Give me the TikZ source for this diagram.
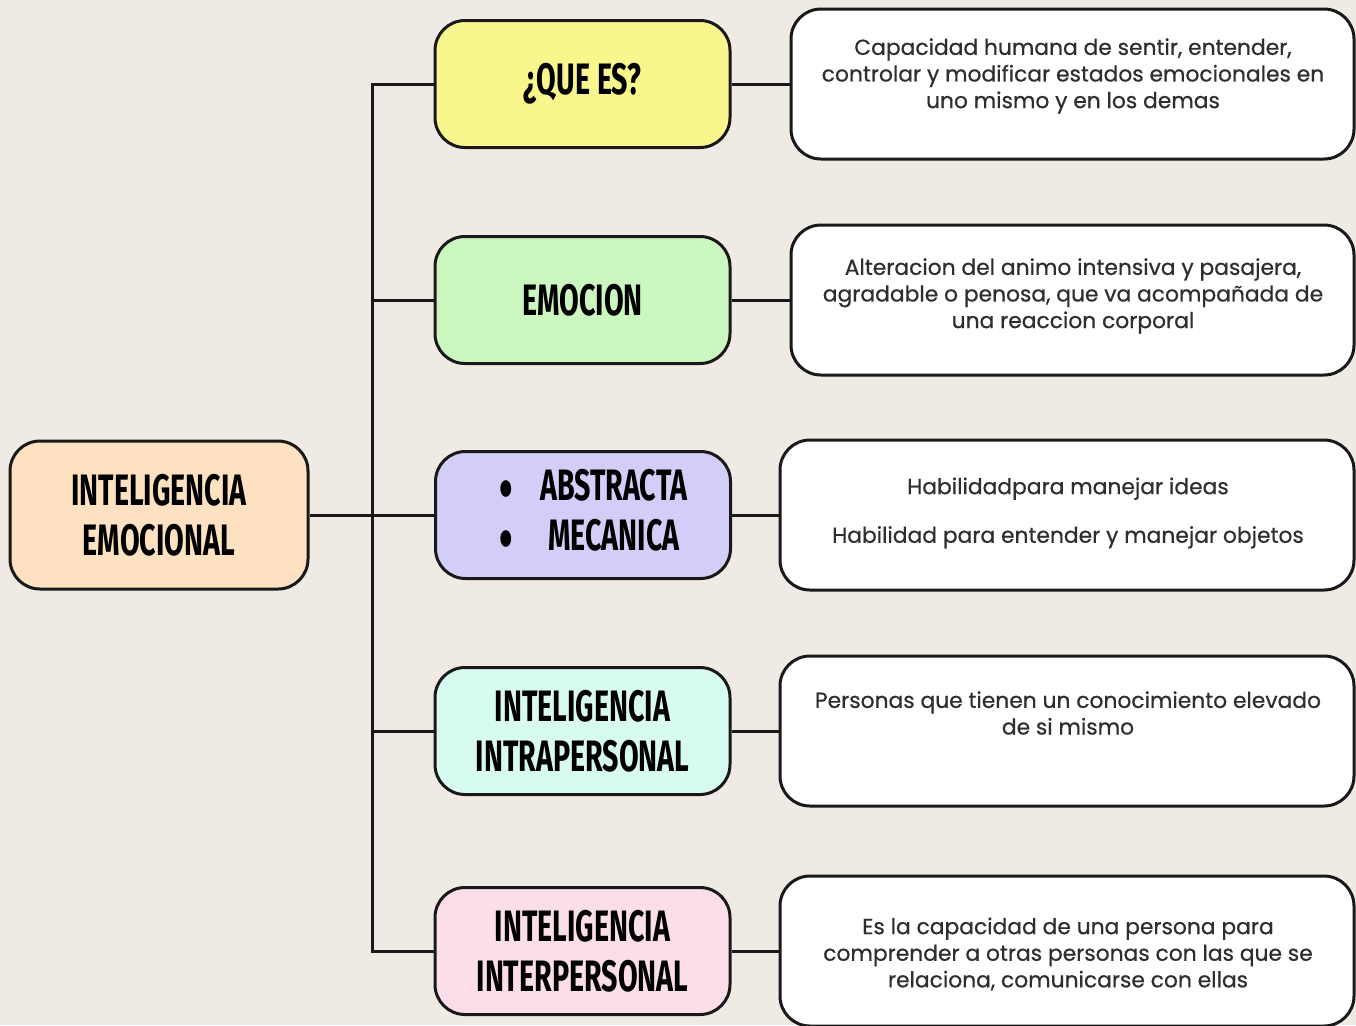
\documentclass[tikz,border=0pt]{standalone}
\usepackage{fontspec}
\setmainfont{Poppins}[FakeBold=0.6]
\newfontfamily\headfont[FakeStretch=0.65]{Fira Sans}
\definecolor{bg}{HTML}{EFEAE3}
\definecolor{cyellow}{HTML}{FAF68E}
\definecolor{cgreen}{HTML}{CCF6BF}
\definecolor{cviolet}{HTML}{D3CEF8}
\definecolor{cmint}{HTML}{D7FBF1}
\definecolor{cpink}{HTML}{FCDEE8}
\definecolor{cpeach}{HTML}{FDE1C0}
\definecolor{txt}{HTML}{2E2E2E}
\newcommand{\bigbul}{\raisebox{-4.5pt}[0pt][0pt]{\fontsize{30}{0}\selectfont\textbullet}}
\tikzset{
  box/.style={draw=black!90, line width=1.5pt, rounded corners=15pt, rectangle, align=center},
  headbox/.style={box, minimum width=147.5pt, minimum height=63.5pt, font=\headfont\bfseries\fontsize{22}{25}\selectfont},
  rootbox/.style={box, minimum width=149pt, minimum height=74pt, fill=cpeach, font=\headfont\bfseries\fontsize{22}{25}\selectfont},
  infobox/.style={box, fill=white, minimum height=75pt},
  infotext/.style={align=center, text=txt, font=\fontsize{10.9}{13.3}\selectfont},
  link/.style={draw=black!90, line width=1.5pt}
}
\begin{document}
\begin{tikzpicture}[x=0.5pt, y=-0.5pt]
\fill[bg] (0,0) rectangle (1356,1025);
\useasboundingbox (0,0) rectangle (1356,1025);
% root
\node[rootbox] (root) at (159,515) {INTELIGENCIA\\EMOCIONAL};
% middle column
\node[headbox, fill=cyellow] (que) at (582.5,84) {¿QUE ES?};
\node[headbox, fill=cgreen] (emo) at (582.5,300) {EMOCION};
\node[headbox, fill=cviolet] (abs) at (583,515) {\begin{tabular}{@{\hspace{10pt}}c@{\hspace{14pt}}c@{}}\bigbul & ABSTRACTA\\ \bigbul & MECANICA\end{tabular}};
\node[headbox, fill=cmint] (intra) at (582.5,731) {INTELIGENCIA\\INTRAPERSONAL};
\node[headbox, fill=cpink] (inter) at (582.5,951) {INTELIGENCIA\\INTERPERSONAL};
% right column
\node[infobox, minimum width=281.5pt] (d1) at (1072.5,84) {};
\node[infotext] (t1) at (1073,76) {Capacidad humana de sentir, entender,\\controlar y modificar estados emocionales en\\uno mismo y en los demas};
\node[infobox, minimum width=281.5pt] (d2) at (1072.5,300) {};
\node[infotext] (t2) at (1073,296) {Alteracion del animo intensiva y pasajera,\\agradable o penosa, que va acompañada de\\una reaccion corporal};
\node[infobox, minimum width=287pt] (d3) at (1067,515) {};
\node[infotext] (t3) at (1068,513) {Habilidadpara manejar ideas\\[11pt]Habilidad para entender y manejar objetos};
\node[infobox, minimum width=287pt] (d4) at (1067,731) {};
\node[infotext] (t4) at (1068,713) {Personas que tienen un conocimiento elevado\\de si mismo};
\node[infobox, minimum width=287pt] (d5) at (1067,951) {};
\node[infotext] (t5) at (1068,954) {Es la capacidad de una persona para\\comprender a otras personas con las que se\\relaciona, comunicarse con ellas};
% connectors
\draw[link] (que.west) -- ++(-61,0) coordinate (ttop) |- (inter.west);
\draw[link] (root.east) -- (abs.west);
\draw[link] (emo.west) -- ++(-63,0);
\draw[link] (intra.west) -- ++(-61,0);
\draw[link] (que.east) -- (d1.west);
\draw[link] (emo.east) -- (d2.west);
\draw[link] (abs.east) -- (d3.west);
\draw[link] (intra.east) -- (d4.west);
\draw[link] (inter.east) -- (d5.west);
\end{tikzpicture}
\end{document}
